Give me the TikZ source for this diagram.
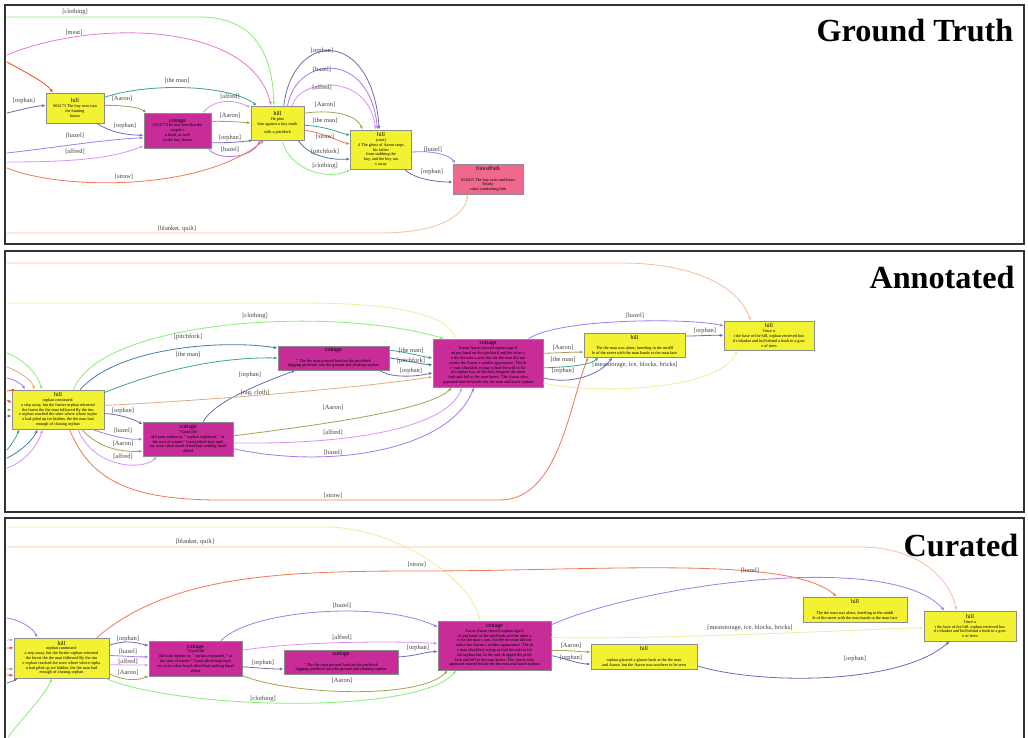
\documentclass[tikz,border=0pt]{standalone}
\usepackage{fontspec}
\setmainfont{Liberation Serif}
\usetikzlibrary{arrows.meta}

\definecolor{hillfill}{HTML}{F2F233}
\definecolor{cotfill}{HTML}{C72C98}
\definecolor{pathfill}{HTML}{F0688E}
\definecolor{cClothing}{HTML}{88EE77}
\definecolor{cMeat}{HTML}{E37BD6}
\definecolor{cRed}{HTML}{EE4B2B}
\definecolor{cOrphan}{HTML}{6F6FAE}
\definecolor{cMan}{HTML}{3FA58E}
\definecolor{cAaron}{HTML}{A5A259}
\definecolor{cHazel}{HTML}{A77BEF}
\definecolor{cAlfred}{HTML}{DA93F2}
\definecolor{cStraw}{HTML}{F07A55}
\definecolor{cFork}{HTML}{4A7EA6}
\definecolor{cBlanket}{HTML}{F5BE9E}
\definecolor{cRag}{HTML}{E3AC80}
\definecolor{cIce}{HTML}{F1EC9A}

\tikzset{
  scene/.style={draw=black!45, line width=0.6pt, inner sep=1pt, align=center,
    font=\fontsize{3.6}{4.1}\selectfont},
  hillbox/.style={scene, fill=hillfill},
  cotbox/.style={scene, fill=cotfill},
  pathbox/.style={scene, fill=pathfill},
  sz/.style 2 args={minimum width=#1*0.03cm, minimum height=#2*0.03cm},
  lbl/.style={font=\fontsize{5.5}{6}\selectfont, text=black!75, inner sep=0pt},
  rel/.style={draw=#1, line width=0.7pt, -{Latex[length=3.2pt,width=2.6pt]}},
  frame/.style={draw=black!80, line width=2.2pt},
  paneltitle/.style={font=\fontsize{27.5}{30}\selectfont\bfseries}
}
\newcommand{\hd}[1]{{\fontsize{5}{5.6}\selectfont #1}\\}
% texts shared by the two lower panels
\newcommand{\txtHill}{\hd{hill}orphan continued:\\a step away, but the furrier orphan retreated\\the forest the the man followed By the tim\\e orphan reached the store where where orpha\\n had piled up ice hidden, the the man had\\enough of chasing orphan}
\newcommand{\txtCotA}{\hd{cottage}"Good old\\old took orphan in, " orphan explained, " at\\the start of winter." Good alfred kept mph\\ew, even when hazel alfred had nothing hazel\\alfred}
\newcommand{\txtCotB}{\hd{cottage}\\[1pt]" The the man pressed hard on the pitchfork\\digging pitchfork into the ground and choking orphan}
\newcommand{\txtCotC}{\hd{cottage}Aaron Aaron shoved orphan aga-li\\nd put hand on the pitchfork and the other a\\n the the man s arm, but the the man did not\\notice the Aaron s sudden appearance. The th\\e man chuckled, trying to find the will to fin\\ish orphan but, in the end, dropped the pitch\\fork and fell to the man knees. The Aaron who\\appeared moved beside the the man and faced orphan}
\newcommand{\txtHillM}{\hd{hill}\\[1pt]The the man was alone, kneeling in the middl\\le of the street with the man hands to the man face}
\newcommand{\txtHillR}{\hd{hill}Once u\\t the base of the hill, orphan retrieved hus\\d s blanket and hid behind a bush in a grov\\e of trees}

\begin{document}
\begin{tikzpicture}[x=0.03cm,y=-0.03cm]
\useasboundingbox (0,0) rectangle (1028,738);
\draw[frame] (5,5) rectangle (1024,244);
\draw[frame] (5,251) rectangle (1024,512);
\draw[frame] (5,740) -- (5,518) -- (1024,518) -- (1024,740);
\node[paneltitle] (gtTitle) at (915,31) {Ground Truth};
\node[paneltitle] (atTitle) at (942,277) {Annotated};
\node[paneltitle] (ctTitle) at (961,546) {Curated};

% ---- ground truth
\node[hillbox, sz={58}{30}] (gtHillA) at (75,108) {\hd{hill}S06173 The boy runs into\\the hunting\\house};
\node[cotbox, sz={67}{35}] (gtCot) at (177.5,130.5) {\hd{cottage}S51277 The boy sees that the\\couple s\\a dead, as well\\as the boy Aaron};
\node[hillbox, sz={53}{34}] (gtHillB) at (277.5,123) {\hd{hill}He pins\\him against a boy trunk\\[3pt]with a pitchfork};
\node[hillbox, sz={61}{39}] (gtHillC) at (381,149.5) {\hd{hill}(cont)\\4 The ghost of Aaron stops\\his father\\from stabbing the\\boy, and the boy ran\\s away};
\node[pathbox, sz={70}{30}] (gtPath) at (488,179) {\hd{forestPath}\\[1pt]A29415 The boy cries and hears\\Nearly\\voice comforting him};
\coordinate (gtInA) at (7,17);
\coordinate (gtInB) at (7,55);
\coordinate (gtInC) at (7,62);
\coordinate (gtInD) at (7,113);
\coordinate (gtInE) at (7,153);
\coordinate (gtInF) at (7,162);
\coordinate (gtInG) at (7,168);
\coordinate (gtInH) at (7,233);
\draw[rel=cClothing] (gtInA) -- (200,17) .. controls (258,17) and (273,60) .. (gtHillB.102) node[lbl] at (75,12) {[clothing]};
\draw[rel=cMeat] (gtInB) .. controls (90,20) and (250,20) .. (gtHillB.110) node[lbl] at (74,33) {[meat]};
\draw[rel=cRed] (gtInC) .. controls (25,72) and (45,82) .. (gtHillA.145);
\draw[rel=cOrphan] (gtInD) .. controls (20,110) and (35,106) .. (gtHillA.175) node[lbl] at (24,101) {[orphan]};
\draw[rel=cMan] (gtHillA.20) .. controls (150,82) and (230,85) .. (gtHillB.140) node[lbl] at (177,81) {[the man]};
\draw[rel=cAaron] (gtHillA.5) .. controls (125,105) and (140,108) .. (gtCot.150) node[lbl] at (122,99) {[Aaron]};
\draw[rel=cOrphan] (gtHillA.-35) .. controls (110,132) and (125,135) .. (gtCot.188) node[lbl] at (125,126) {[orphan]};
\draw[rel=cHazel] (gtInE) .. controls (60,147) and (100,140) .. (gtCot.192) node[lbl] at (75,136) {[hazel]};
\draw[rel=cAlfred] (gtInF) .. controls (60,162) and (110,160) .. (gtCot.204) node[lbl] at (75,152) {[alfred]};
\draw[rel=cAlfred] (gtCot.35) .. controls (215,98) and (235,100) .. (gtHillB.150) node[lbl] at (230,97) {[alfred]};
\draw[rel=cAaron] (gtCot.15) .. controls (225,121) and (240,122) .. (gtHillB.180) node[lbl] at (230,116) {[Aaron]};
\draw[rel=cOrphan] (gtCot.-20) .. controls (225,143) and (240,142) .. (gtHillB.-145) node[lbl] at (230,138) {[orphan]};
\draw[rel=cHazel] (gtCot.-30) .. controls (215,160) and (250,160) .. (gtHillB.-135) node[lbl] at (230,150) {[hazel]};
\draw[rel=cStraw] (gtInG) .. controls (60,190) and (200,192) .. (gtHillB.-128) node[lbl] at (124,177) {[straw]};
\draw[rel=cOrphan] (gtHillB.70) .. controls (293,30) and (372,28) .. (gtHillC.95) node[lbl] at (322,51) {[orphan]};
\draw[rel=cHazel] (gtHillB.60) .. controls (297,55) and (370,50) .. (gtHillC.100) node[lbl] at (322,70) {[hazel]};
\draw[rel=cAlfred] (gtHillB.50) .. controls (300,78) and (368,72) .. (gtHillC.105) node[lbl] at (322,88) {[alfred]};
\draw[rel=cAaron] (gtHillB.20) .. controls (325,110) and (355,112) .. (gtHillC.133) node[lbl] at (325,105) {[Aaron]};
\draw[rel=cMan] (gtHillB.-5) .. controls (325,126) and (340,133) .. (gtHillC.155) node[lbl] at (325,121) {[the man]};
\draw[rel=cStraw] (gtHillB.-15) .. controls (325,133) and (340,142) .. (gtHillC.170) node[lbl] at (325,137) {[straw]};
\draw[rel=cFork] (gtHillB.-40) .. controls (310,158) and (335,160) .. (gtHillC.197) node[lbl] at (325,152) {[pitchfork]};
\draw[rel=cClothing] (gtHillB.-75) .. controls (290,172) and (330,180) .. (gtHillC.213) node[lbl] at (325,166) {[clothing]};
\draw[rel=cHazel] (gtHillC.-5) .. controls (430,150) and (450,155) .. (gtPath.155) node[lbl] at (433,150) {[hazel]};
\draw[rel=cOrphan] (gtHillC.-40) .. controls (415,180) and (440,182) .. (gtPath.185) node[lbl] at (432,172) {[orphan]};
\draw[rel=cBlanket] (gtInH) -- (380,233) .. controls (440,233) and (465,215) .. (gtPath.-143) node[lbl] at (177,229) {[blanket, quilt]};

% ---- annotated
\node[hillbox, sz={92}{39}] (atHill) at (58,409.5) {\txtHill};
\node[cotbox, sz={90}{34}] (atCotA) at (188,439) {\txtCotA};
\node[cotbox, sz={111}{24}] (atCotB) at (333.5,358) {\txtCotB};
\node[cotbox, sz={110}{48}] (atCotC) at (488,363) {\txtCotC};
\node[hillbox, sz={101}{24}] (atHillM) at (634.5,345) {\txtHillM};
\node[hillbox, sz={90}{29}] (atHillR) at (769,335.5) {\txtHillR};
\coordinate (atInA) at (7,263);
\coordinate (atInB) at (7,303);
\draw[rel=cBlanket] (atInA) -- (620,263) .. controls (700,263) and (740,290) .. (atHillR.141);
\draw[rel=cIce] (atInB) -- (300,303) .. controls (400,303) and (445,315) .. (atCotC.143);
\draw[rel=cClothing] (atHill.52) .. controls (100,320) and (330,305) .. (atCotC.151) node[lbl] at (255,316) {[clothing]};
\draw[rel=cFork] (atHill.42) .. controls (120,345) and (230,340) .. (atCotB.170) node[lbl] at (188,337) {[pitchfork]};
\draw[rel=cMan] (atHill.20) .. controls (160,370) and (220,357) .. (atCotB.west) node[lbl] at (188,355) {[the man]};
\draw[rel=cOrphan] (atCotA.49) .. controls (215,400) and (270,380) .. (atCotB.-162) node[lbl] at (250,375) {[orphan]};
\draw[rel=cRag] (atHill.5) .. controls (250,398) and (380,385) .. (atCotC.194) node[lbl] at (255,393) {[rag, cloth]};
\draw[rel=cOrphan] (atHill.-5) .. controls (120,414) and (135,420) .. (atCotA.162) node[lbl] at (123,411) {[orphan]};
\draw[rel=cHazel] (atHill.-30) .. controls (110,436) and (130,440) .. (atCotA.180) node[lbl] at (123,431) {[hazel]};
\draw[rel=cAaron] (atHill.-40) .. controls (100,450) and (125,452) .. (atCotA.195) node[lbl] at (123,444) {[Aaron]};
\draw[rel=cAlfred] (atHill.-45) .. controls (95,470) and (145,470) .. (atCotA.-151) node[lbl] at (123,457) {[alfred]};
\draw[rel=cStraw] (atHill.-60) .. controls (90,480) and (130,500) .. (220,500) -- (500,500) .. controls (560,500) and (570,400) .. (atHillM.-165) node[lbl] at (333,496) {[straw]};
\draw[rel=cAaron] (atCotA.4) .. controls (320,425) and (430,410) .. (atCotC.-146) node[lbl] at (333,408) {[Aaron]};
\draw[rel=cAlfred] (atCotA.-5) .. controls (380,445) and (450,420) .. (atCotC.-137) node[lbl] at (333,433) {[alfred]};
\draw[rel=cHazel] (atCotA.-12) .. controls (330,470) and (450,450) .. (atCotC.-120) node[lbl] at (333,453) {[hazel]};
\draw[rel=cMan] (atCotB.8) .. controls (405,352) and (420,356) .. (atCotC.175) node[lbl] at (411,351) {[the man]};
\draw[rel=cFork] (atCotB.0) .. controls (405,360) and (420,364) .. (atCotC.182) node[lbl] at (411,361) {[pitchfork]};
\draw[rel=cOrphan] (atCotB.-15) .. controls (390,378) and (415,377) .. (atCotC.190) node[lbl] at (411,371) {[orphan]};
\draw[rel=cAaron] (atCotC.10) .. controls (560,353) and (570,352) .. (atHillM.188) node[lbl] at (563,348) {[Aaron]};
\draw[rel=cMan] (atCotC.-5) .. controls (570,367) and (590,365) .. (atHillM.-161) node[lbl] at (563,360) {[the man]};
\draw[rel=cOrphan] (atCotC.-15) .. controls (570,385) and (600,375) .. (atHillM.-151) node[lbl] at (563,371) {[orphan]};
\draw[rel=cIce] (atCotC.-20) .. controls (600,395) and (720,390) .. (atHillR.-155) node[lbl] at (635,365) {[meatstorage, ice, blocks, bricks]};
\draw[rel=cHazel] (atCotC.31) .. controls (560,318) and (690,318) .. (atHillR.168) node[lbl] at (635,316) {[hazel]};
\draw[rel=cOrphan] (atHillM.10) .. controls (700,336) and (710,335) .. (atHillR.west) node[lbl] at (705,331) {[orphan]};
% incoming from outside the panel
\coordinate (atInC) at (7,353);
\coordinate (atInD) at (7,367);
\coordinate (atInE) at (7,378);
\coordinate (atInF) at (7,450);
\coordinate (atInG) at (7,458);
\coordinate (atInH) at (7,468);
\draw[rel=cClothing] (atInC) .. controls (25,360) and (38,375) .. (atHill.129);
\draw[rel=cRag] (atInD) .. controls (20,372) and (32,380) .. (atHill.140);
\draw[rel=cHazel] (atInE) .. controls (15,380) and (22,384) .. (atHill.149);
\draw[rel=cMan] (atInF) .. controls (12,444) and (17,436) .. (atHill.-153);
\draw[rel=cFork] (atInG) .. controls (20,452) and (33,440) .. (atHill.-136);
\draw[rel=cAlfred] (atInH) .. controls (25,462) and (38,445) .. (atHill.-128);
\draw[rel=cRed] (7,391) -- (atHill.155);
\draw[rel=cRed] (7,400) -- (atHill.172);
\draw[rel=cAaron] (7,410) -- (atHill.west);
\draw[rel=cOrphan] (7,416) -- (atHill.188);

% ---- curated
\node[hillbox, sz={95}{40}] (ctHill) at (61.5,658) {\txtHill};
\node[cotbox, sz={93}{35}] (ctCotA) at (195.5,658.5) {\txtCotA};
\node[cotbox, sz={114}{24}] (ctCotB) at (341,662) {\txtCotB};
\node[cotbox, sz={113}{49}] (ctCotC) at (494.5,645.5) {\txtCotC};
\node[hillbox, sz={106}{25}] (ctHillL) at (644,656.5) {\hd{hill}\\[1pt]orphan glanced a glance back at the the man\\and Aaron, but the Aaron was nowhere to be seen};
\node[hillbox, sz={104}{25}] (ctHillM) at (855,609.5) {\txtHillM};
\node[hillbox, sz={92}{30}] (ctHillR) at (970,626) {\txtHillR};
\coordinate (ctInA) at (7,527);
\coordinate (ctInB) at (7,547);
\draw[rel=cIce] (ctInA) -- (330,527) .. controls (400,530) and (470,580) .. (ctCotC.120);
\draw[rel=cBlanket] (ctInB) -- (860,547) .. controls (920,547) and (950,580) .. (ctHillR.131) node[lbl] at (195,542) {[blanket, quilt]};
\draw[rel=cStraw] (ctHill.30) .. controls (170,575) and (280,571) .. (420,571) .. controls (600,571) and (790,555) .. (ctHillM.145) node[lbl] at (417,565) {[straw]};
\draw[rel=cHazel] (ctCotA.35) .. controls (250,610) and (380,600) .. (ctCotC.162) node[lbl] at (342,606) {[hazel]};
\draw[rel=cHazel] (ctCotC.20) .. controls (640,585) and (890,550) .. (ctHillR.149) node[lbl] at (750,571) {[hazel]};
\draw[rel=cAlfred] (ctCotA.10) .. controls (300,641) and (400,641) .. (ctCotC.178) node[lbl] at (342,638) {[alfred]};
\draw[rel=cOrphan] (ctCotA.-10) .. controls (260,668) and (270,669) .. (ctCotB.187) node[lbl] at (263,663) {[orphan]};
\draw[rel=cOrphan] (ctCotB.5) .. controls (415,656) and (425,652) .. (ctCotC.186) node[lbl] at (418,648) {[orphan]};
\draw[rel=cAaron] (ctCotA.-20) .. controls (290,695) and (420,700) .. (ctCotC.-152) node[lbl] at (342,681) {[Aaron]};
\draw[rel=cClothing] (ctHill.-25) .. controls (180,710) and (420,715) .. (ctCotC.-147) node[lbl] at (263,699) {[clothing]};
\draw[rel=cOrphan] (ctHill.15) .. controls (125,640) and (135,642) .. (ctCotA.165) node[lbl] at (128,639) {[orphan]};
\draw[rel=cHazel] (ctHill.3) .. controls (125,656) and (135,657) .. (ctCotA.178) node[lbl] at (128,652) {[hazel]};
\draw[rel=cAlfred] (ctHill.-8) .. controls (125,665) and (135,665) .. (ctCotA.188) node[lbl] at (128,662) {[alfred]};
\draw[rel=cAaron] (ctHill.-18) .. controls (125,682) and (140,680) .. (ctCotA.200) node[lbl] at (128,673) {[Aaron]};
\draw[rel=cAaron] (ctCotC.-5) .. controls (570,650) and (580,652) .. (ctHillL.175) node[lbl] at (571,646) {[Aaron]};
\draw[rel=cOrphan] (ctCotC.-10) .. controls (570,660) and (580,664) .. (ctHillL.188) node[lbl] at (571,658) {[orphan]};
\draw[rel=cIce] (ctCotC.8) .. controls (650,640) and (850,630) .. (ctHillR.182) node[lbl] at (750,628) {[meatstorage, ice, blocks, bricks]};
\draw[rel=cOrphan] (ctHillL.-10) .. controls (760,685) and (900,685) .. (ctHillR.-143) node[lbl] at (855,659) {[orphan]};
% incoming from outside the panel
\coordinate (ctInC) at (7,618);
\coordinate (ctInD) at (7,683);
\coordinate (ctInE) at (8,737);
\draw[rel=cHazel] (ctInC) .. controls (20,620) and (33,628) .. (ctHill.140);
\draw[rel=cOrphan] (ctInD) .. controls (11,682) and (15,680) .. (ctHill.-155);
\draw[rel=cClothing] (ctInE) .. controls (25,715) and (45,695) .. (ctHill.-115);
\draw[rel=cAlfred] (7,640) -- (ctHill.159);
\draw[rel=cRed] (7,648) -- (ctHill.168);
\draw[rel=cAaron] (7,669) -- (ctHill.193);
\draw[rel=cRed] (7,675) -- (ctHill.200);
\end{tikzpicture}
\end{document}
